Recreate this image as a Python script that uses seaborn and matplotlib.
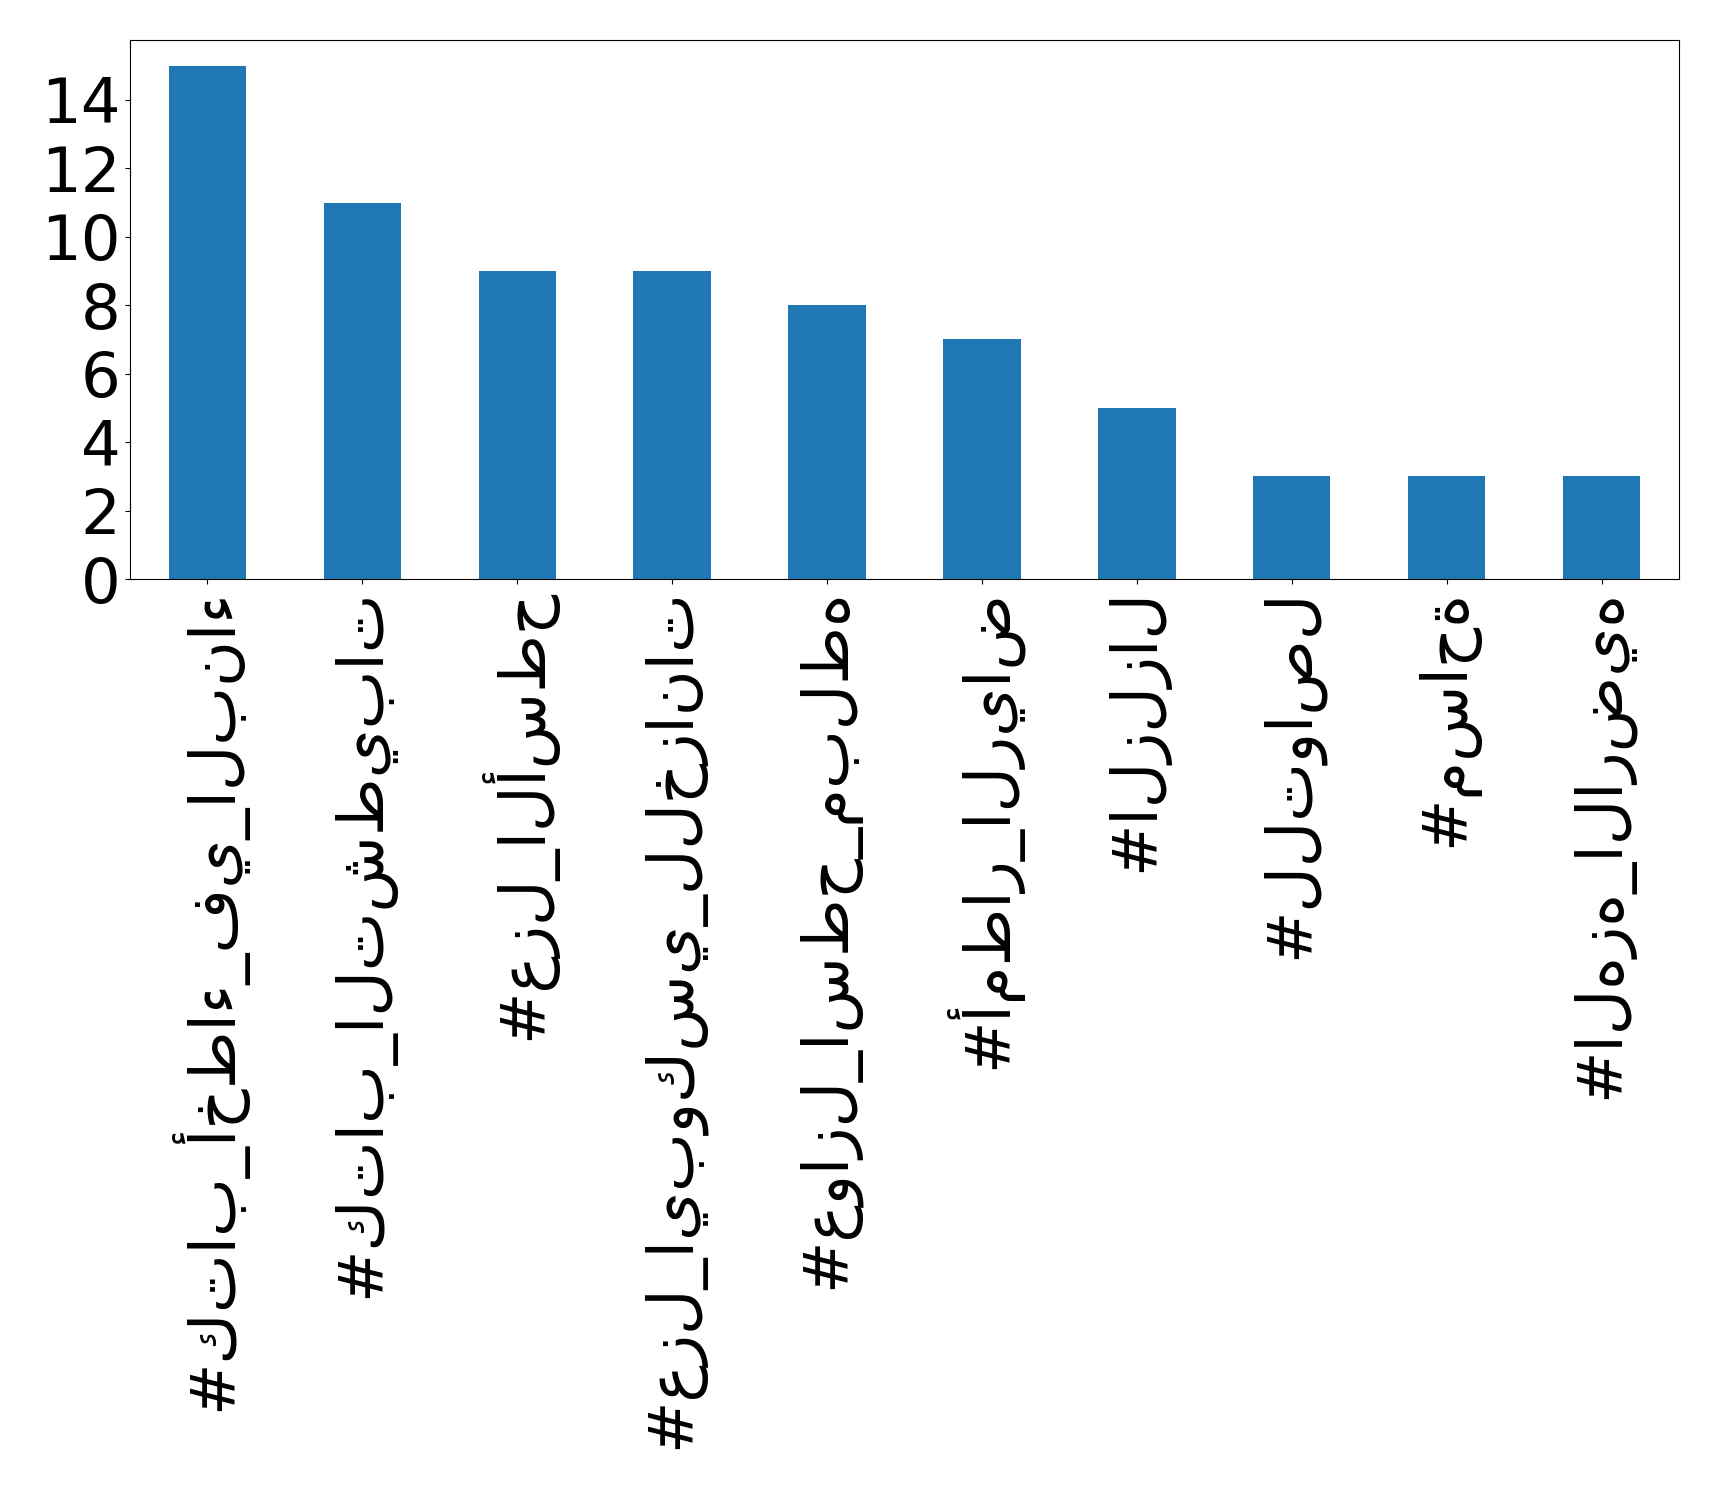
import matplotlib
matplotlib.use("Agg")
import matplotlib.pyplot as plt
import seaborn as sns
import pandas as pd

# hashtag counts
hashtags = [
    "#كتاب_أخطاء_في_البناء",
    "#كتاب_التشطيبات",
    "#عزل_الأسطح",
    "#عزل_ايبوكسي_للخزانات",
    "#عوازل_اسطح_مبلطه",
    "#أمطار_الرياض",
    "#الزلزال",
    "#للتواصل",
    "#مساحة",
    "#الهزه_الارضيه",
]
counts = [15, 11, 9, 9, 8, 7, 5, 3, 3, 3]

df = pd.DataFrame({"hashtag": hashtags, "count": counts})

plt.rcParams["font.family"] = ["DejaVu Sans"]

W, H = 1719, 1489
fig = plt.figure(figsize=(W / 100, H / 100), dpi=100)
# axes box in pixels: left 130, right 1679, top 40, bottom 579
ax = fig.add_axes([130 / W, 1 - 579 / H, (1679 - 130) / W, (579 - 40) / H])

sns.barplot(data=df, x="hashtag", y="count", color="#1f77b4", saturation=1,
            width=0.5, ax=ax)

ax.set_xlabel("")
ax.set_ylabel("")
ax.set_xlim(-0.5, len(hashtags) - 0.5)
ax.set_ylim(0, max(counts) * 1.05)
ax.set_yticks([0, 2, 4, 6, 8, 10, 12, 14])
ax.tick_params(axis="both", labelsize=45)
plt.setp(ax.get_xticklabels(), rotation=90)

fig.savefig("out.png", dpi=100)
plt.close(fig)
print("Saved out.png")
